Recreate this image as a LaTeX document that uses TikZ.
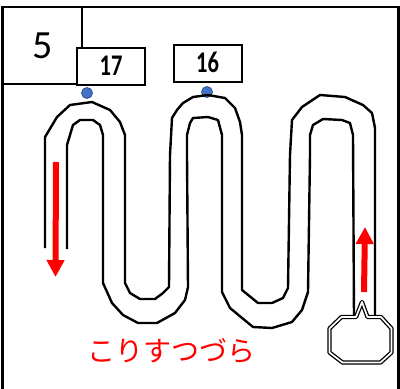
\documentclass[tikz,border=0pt]{standalone}
\usepackage{fontspec}
\setmainfont{Carlito}
\newfontfamily\cjk{Noto Sans CJK JP}
\usetikzlibrary{arrows.meta}
\definecolor{dotblue}{HTML}{4472C4}
\definecolor{dotedge}{HTML}{2F528F}
\begin{document}
\begin{tikzpicture}[x=1pt,y=-1pt,
  road/.style={line width=2.4pt, line join=round},
  frameline/.style={line width=2.6pt},
  innerline/.style={line width=2.2pt},
  numbox/.style={draw, line width=2pt, minimum width=68pt, minimum height=37pt, inner sep=0pt},
  numtext/.style={font=\bfseries\fontsize{30}{30}\selectfont, xscale=0.75},
  dot/.style={circle, fill=dotblue, draw=dotedge, line width=0.8pt, minimum size=11pt, inner sep=0pt},
  redarrow/.style={red, line width=6pt, -{Triangle[length=17pt,width=17pt]}},
  callout/.style={line width=1.3pt, double distance=1.7pt, line join=round}]
\useasboundingbox (0,0) rectangle (400,389);
% frame
\draw[frameline] (2.5,389) -- (2.5,7) -- (398.5,7) -- (398.5,389);
\draw[innerline] (82,7) -- (82,84);
\draw[innerline] (2.5,84) -- (78,84);
\node (five) at (43,46) {\fontsize{40}{40}\selectfont 5};
% number boxes
\node[numbox, fill=white] (b17) at (111,66.5) {};
\node[numtext] (t17) at ([yshift=1pt]b17.center) {17};
\node[numbox, fill=white] (b16) at (207.5,63) {};
\node[numtext] (t16) at ([yshift=1pt]b16.center) {16};
% dots
\node[dot] (d17) at (87,93) {};
\node[dot] (d16) at (207,92) {};
% road line A
\draw[road] (45,248) -- (45,137) -- (57,117) -- (70,105) -- (92,102) -- (110,110) -- (120,122) -- (125,135)
  -- (125,283) -- (130,293) -- (140,299) -- (155,299) -- (163,293) -- (169,287)
  -- (170,155) -- (172,118) -- (177,110) -- (183,103) -- (193,97) -- (208,95) -- (225,98) -- (235,108) -- (240,122) -- (242,135)
  -- (242,290) -- (258,303) -- (272,303) -- (283,298) -- (288,288)
  -- (290,155) -- (292,120) -- (302,107) -- (320,95) -- (345,97) -- (363,105) -- (372,113) -- (375,128) -- (375,317);
% road line B
\draw[road] (67,249) -- (67,145) -- (73,125) -- (80,120) -- (93,120) -- (100,125) -- (103,135)
  -- (103,283) -- (112,303) -- (123,315) -- (138,323) -- (157,323) -- (175,313) -- (185,300) -- (188,287)
  -- (187,155) -- (187,135) -- (190,123) -- (193,118) -- (208,117) -- (218,120) -- (222,135)
  -- (222,292) -- (230,308) -- (253,327) -- (272,328) -- (292,322) -- (302,310) -- (308,292)
  -- (310,155) -- (310,135) -- (313,125) -- (323,119) -- (342,120) -- (350,123) -- (353,135) -- (354,317);
% octagon callout
\draw[callout, fill=white] (329.5,328.5) -- (341.5,317) -- (356,317) -- (362,302) -- (367.5,317) -- (381,317)
  -- (391.5,328.5) -- (391.5,352.5) -- (380.5,362.5) -- (342.5,362.5) -- (329.5,352.5) -- cycle;
% red arrows
\coordinate (la1) at (56,162);
\coordinate (la2) at (55.5,277);
\draw[redarrow] (la1) -- (la2);
\coordinate (ra1) at (364,292);
\coordinate (ra2) at (365,227);
\draw[redarrow] (ra1) -- (ra2);
% label
\node[text=red, font=\cjk\fontsize{28}{28}\selectfont] (lbl) at (172,351) {こりすつづら};
\end{tikzpicture}
\end{document}
